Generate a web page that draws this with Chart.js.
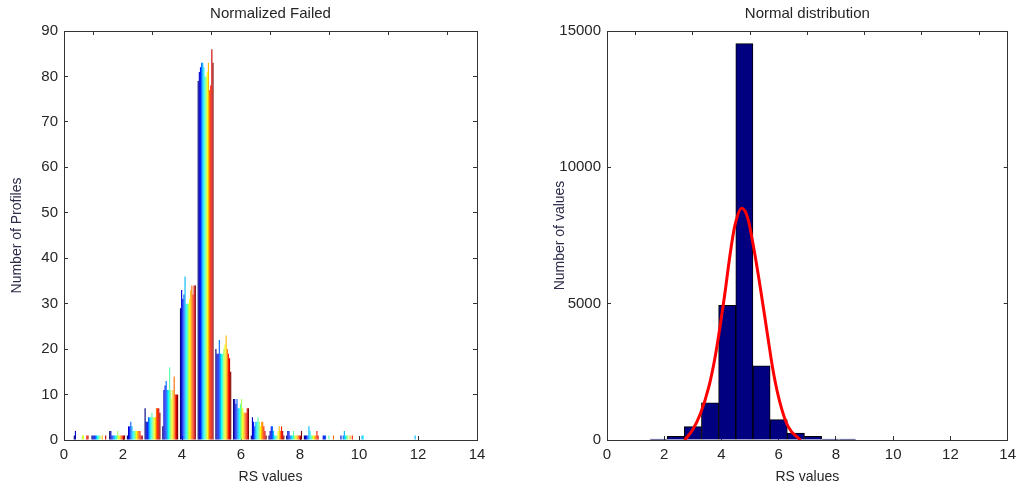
<!DOCTYPE html>
<html>
<head>
<meta charset="utf-8">
<script src="https://cdn.jsdelivr.net/npm/chart.js@4.4.1/dist/chart.umd.min.js"></script>
<style>
  body { margin: 0; background: #fff; }
  .box { position: absolute; top: 0; height: 488px; }
  #left { left: 0; width: 500px; }
  #right { left: 510px; width: 516px; }
</style>
</head>
<body>
<div class="box" id="left"><canvas id="failed-chart"></canvas></div>
<div class="box" id="right"><canvas id="normal-chart"></canvas></div>
<script>
"use strict";

// bin centres shared by both histograms
const binCenters = [0.6, 1.2, 1.8, 2.4, 3.0, 3.6, 4.2, 4.8, 5.4, 6.0, 6.6, 7.2, 7.8, 8.4, 9.0, 9.6, 10.2, 10.8, 11.4, 12.0];

// left chart: one row per bin, one column per profile series (14 series)
const failedCounts = [
  [1, 2, 0, 0, 0, 0, 0, 1, 1, 0, 0, 1, 1, 0],
  [1, 1, 1, 1, 1, 1, 1, 1, 0, 1, 0, 0, 1, 0],
  [2, 2, 1, 1, 1, 1, 1, 2, 1, 1, 1, 1, 1, 1],
  [1, 3, 3, 4, 3, 2, 2, 2, 2, 2, 2, 2, 1, 1],
  [7, 4, 4, 5, 5, 5, 6, 5, 5, 5, 7, 7, 7, 6],
  [3, 11, 12, 13, 11, 11, 16, 11, 9, 11, 14, 10, 10, 10],
  [29, 33, 31, 32, 36, 30, 30, 30, 31, 33, 34, 32, 34, 34],
  [79, 81, 82, 83, 83, 82, 80, 80, 81, 83, 77, 78, 86, 83],
  [20, 19, 19, 22, 19, 19, 19, 20, 21, 23, 20, 19, 18, 15],
  [9, 9, 8, 9, 7, 7, 8, 9, 7, 6, 6, 6, 7, 7],
  [1, 5, 4, 3, 4, 4, 5, 4, 3, 4, 4, 3, 2, 1],
  [1, 2, 3, 3, 2, 1, 1, 1, 2, 3, 2, 3, 2, 1],
  [1, 2, 2, 1, 1, 1, 2, 1, 1, 1, 1, 1, 1, 2],
  [1, 1, 1, 1, 3, 2, 1, 1, 1, 1, 1, 2, 1, 0],
  [0, 1, 1, 1, 0, 0, 1, 0, 0, 0, 1, 0, 0, 0],
  [0, 1, 0, 1, 2, 1, 1, 1, 0, 1, 0, 1, 0, 0],
  [0, 0, 0, 0, 1, 1, 0, 0, 0, 0, 0, 0, 0, 0],
  [0, 0, 0, 0, 0, 0, 0, 0, 0, 0, 0, 0, 0, 0],
  [0, 0, 0, 0, 0, 0, 0, 0, 0, 0, 0, 0, 0, 0],
  [0, 0, 0, 0, 1, 0, 0, 0, 0, 0, 0, 0, 0, 0]
];

// right chart: histogram of all values
const histCenters = [1.8, 2.4, 3.0, 3.6, 4.2, 4.8, 5.4, 6.0, 6.6, 7.2, 7.8, 8.4];
const histCounts = [37, 134, 488, 1367, 4943, 14536, 2722, 745, 256, 134, 37, 37];

// fitted curve
const fitX = [2.71, 2.99, 3.27, 3.56, 3.78, 3.95, 4.12, 4.29, 4.46, 4.71, 4.92, 5.14, 5.37, 5.60, 5.82, 6.05, 6.33, 6.76];
const fitY = [0, 367, 978, 1956, 3056, 4156, 5380, 6723, 7823, 8498, 8130, 6968, 5501, 3912, 2445, 1345, 489, 0];

const xTicks = { min: 0, max: 14, step: 2 };

const ink = '#262626';
const family = "'Liberation Sans', Arial, sans-serif";
const tickFont = { family, size: 15 };
const labelFont = { family, size: 14 };
const titleFont = { family, size: 15 };

function jet(i, n) {
  const t = i / (n - 1);
  const c = v => Math.round(255 * Math.max(0, Math.min(1, v)));
  const r = c(Math.min(4 * t - 1.5, -4 * t + 4.5));
  const g = c(Math.min(4 * t - 0.5, -4 * t + 3.5));
  const b = c(Math.min(4 * t + 0.5, -4 * t + 2.5));
  return `rgb(${r}, ${g}, ${b})`;
}

// MATLAB style boxed axes with inward ticks
function boxScales(opts) {
  const edge = { color: '#333', width: 1 };
  const inward = { drawOnChartArea: false, drawTicks: true, tickLength: -4, color: '#333' };
  return {
    x: {
      type: 'linear', position: 'bottom', min: xTicks.min, max: xTicks.max, offset: false,
      border: edge, grid: { ...inward, offset: false },
      ticks: { stepSize: xTicks.step, padding: 10, color: ink, font: tickFont, maxRotation: 0 },
      title: { display: true, text: 'RS values', color: ink, font: labelFont, padding: { top: 0, bottom: 2 } },
      afterFit: s => { s.height = 48; }
    },
    x2: {
      type: 'linear', position: 'top', min: xTicks.min, max: xTicks.max, offset: false,
      border: edge, grid: inward,
      ticks: { stepSize: xTicks.step, display: false },
      title: { display: true, text: opts.title, color: ink, font: titleFont, padding: { top: 5, bottom: 0 } },
      afterFit: s => { s.height = 31; }
    },
    y: {
      type: 'linear', position: 'left', min: 0, max: opts.yMax,
      border: edge, grid: inward,
      ticks: { stepSize: opts.yStep, padding: 10, color: ink, font: tickFont, callback: v => String(v) },
      title: { display: true, text: opts.yTitle, color: '#2b2b4a', font: labelFont, padding: { top: opts.yTitlePad, bottom: 0 } },
      afterFit: s => { s.width = opts.yWidth; }
    },
    y2: {
      type: 'linear', position: 'right', min: 0, max: opts.yMax,
      border: edge, grid: inward,
      ticks: { stepSize: opts.yStep, display: false },
      afterFit: s => { s.width = 0; }
    }
  };
}

const commonPlugins = { legend: { display: false }, tooltip: { enabled: false } };

const seriesCount = failedCounts[0].length;
const failedSets = [];
for (let s = 0; s < seriesCount; s++) {
  failedSets.push({
    data: binCenters.map((x, i) => ({ x, y: failedCounts[i][s] })),
    backgroundColor: jet(s, seriesCount),
    borderWidth: 0,
    categoryPercentage: 0.9,
    barPercentage: 1
  });
}

new Chart(document.getElementById('failed-chart'), {
  type: 'bar',
  data: { datasets: failedSets },
  options: {
    responsive: true,
    maintainAspectRatio: false,
    animation: false,
    layout: { padding: { left: 0, right: 23, top: 0, bottom: 0 } },
    plugins: commonPlugins,
    scales: boxScales({ title: 'Normalized Failed', yMax: 90, yStep: 10, yTitle: 'Number of Profiles', yWidth: 64, yTitlePad: 9 })
  }
});

new Chart(document.getElementById('normal-chart'), {
  type: 'bar',
  data: {
    datasets: [
      {
        type: 'line',
        data: fitX.map((x, i) => ({ x, y: fitY[i] })),
        borderColor: '#ff0000',
        borderWidth: 3,
        pointRadius: 0,
        fill: false,
        tension: 0.4,
        cubicInterpolationMode: 'monotone',
        order: 0
      },
      {
        data: histCenters.map((x, i) => ({ x, y: histCounts[i] })),
        backgroundColor: '#000080',
        borderColor: '#000000',
        borderWidth: 1,
        categoryPercentage: 1,
        barPercentage: 1,
        order: 1
      }
    ]
  },
  options: {
    responsive: true,
    maintainAspectRatio: false,
    animation: false,
    layout: { padding: { left: 0, right: 7, top: 0, bottom: 0 } },
    plugins: commonPlugins,
    scales: boxScales({ title: 'Normal distribution', yMax: 15000, yStep: 5000, yTitle: 'Number of values', yWidth: 97, yTitlePad: 42 })
  }
});
</script>
</body>
</html>
